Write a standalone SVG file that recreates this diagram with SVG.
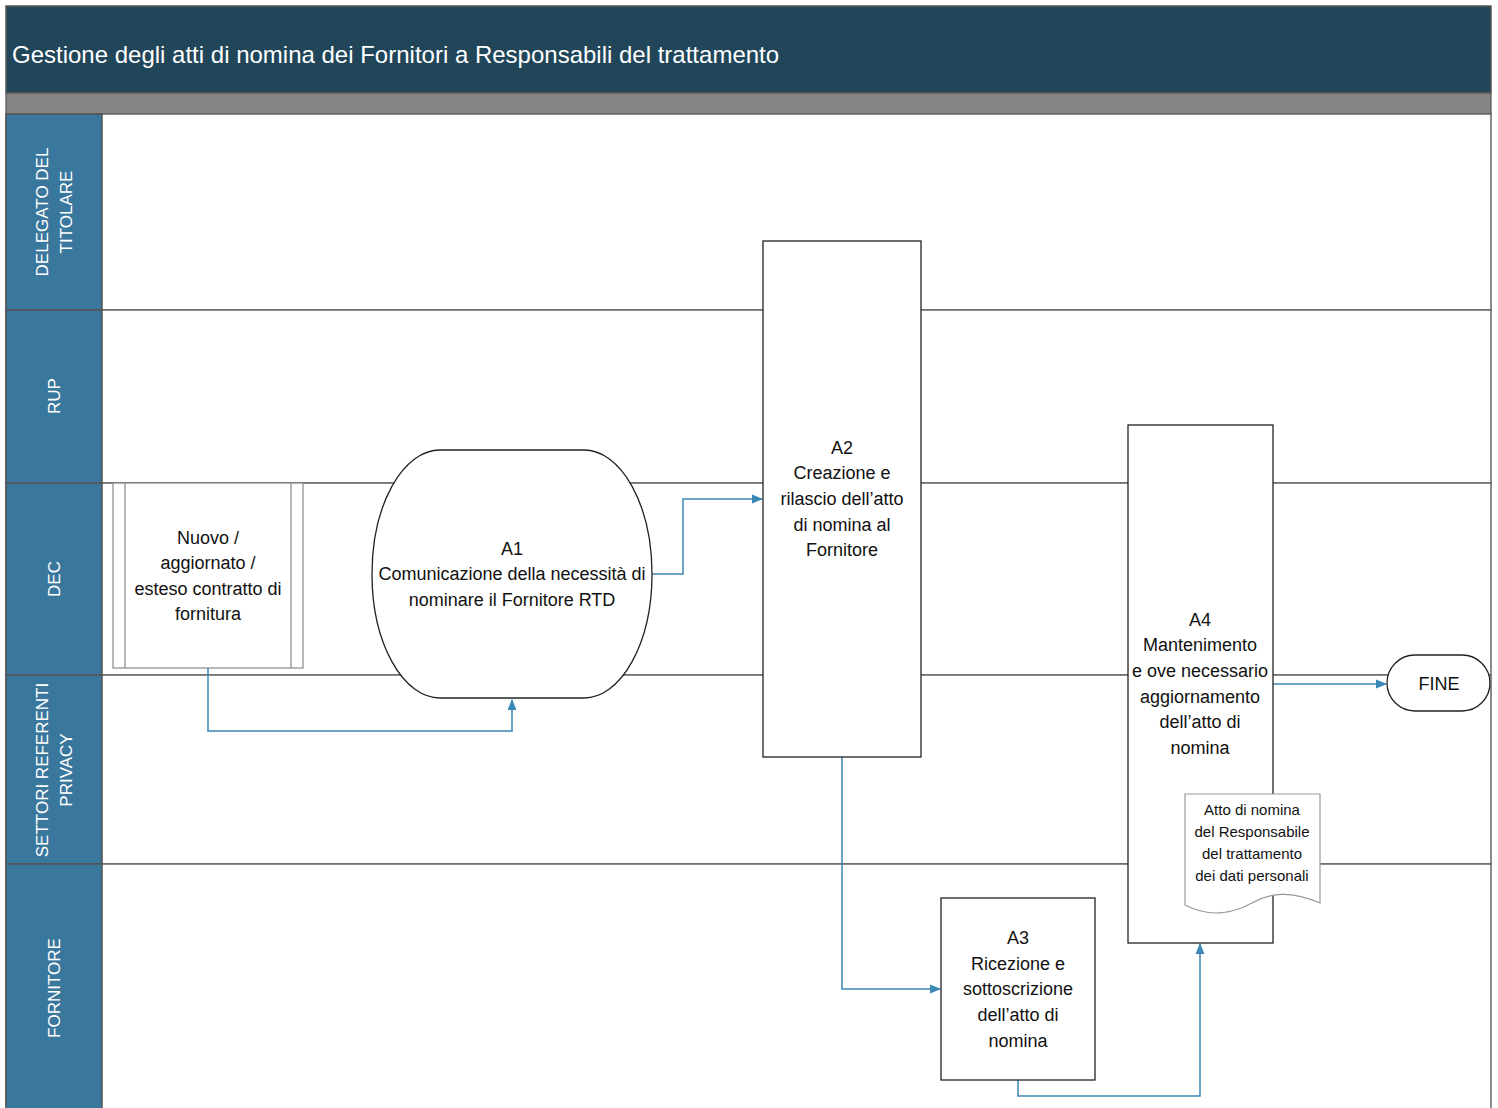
<svg xmlns="http://www.w3.org/2000/svg" width="1498" height="1108" viewBox="0 0 1498 1108">
<defs>
<marker id="arr" markerWidth="12" markerHeight="12" refX="10" refY="6" orient="auto" markerUnits="userSpaceOnUse">
<path d="M0,1.5 L11,6 L0,10.5 Z" fill="#3b87b5"/>
</marker>
<style>
.lane{fill:#ffffff;stroke:#666666;stroke-width:1.5}
.hdr{fill:#3a779c;stroke:#555555;stroke-width:1.5}
.lbl{font-family:"Liberation Sans",Arial,sans-serif;font-size:17px;fill:#ffffff;text-anchor:middle}
.node{fill:#ffffff;stroke:#222222;stroke-width:1.3}
.t{font-family:"Liberation Sans",Arial,sans-serif;font-size:18px;fill:#111111;text-anchor:middle}
.ts{font-family:"Liberation Sans",Arial,sans-serif;font-size:15px;fill:#111111;text-anchor:middle}
.c{fill:none;stroke:#3b87b5;stroke-width:1.5}
</style>
</defs>
<rect width="1498" height="1108" fill="#ffffff"/>
<g id="title">
<rect x="6" y="6" width="1485" height="87" fill="#21465a" stroke="#555555" stroke-width="1.5"/>
<rect x="6" y="93" width="1485" height="21" fill="#858585" stroke="#555555" stroke-width="1.2"/>
<text x="12" y="63" font-family="Liberation Sans,Arial,sans-serif" font-size="24" fill="#ffffff">Gestione degli atti di nomina dei Fornitori a Responsabili del trattamento</text>
</g>
<g id="lanes">
<rect class="lane" x="6" y="114" width="1485" height="196"/>
<rect class="lane" x="6" y="310" width="1485" height="173"/>
<rect class="lane" x="6" y="483" width="1485" height="192"/>
<rect class="lane" x="6" y="675" width="1485" height="189"/>
<rect class="lane" x="6" y="864" width="1485" height="250"/>
<rect class="hdr" x="6" y="114" width="96" height="196"/>
<rect class="hdr" x="6" y="310" width="96" height="173"/>
<rect class="hdr" x="6" y="483" width="96" height="192"/>
<rect class="hdr" x="6" y="675" width="96" height="189"/>
<rect class="hdr" x="6" y="864" width="96" height="250"/>
<text class="lbl" transform="translate(48,212) rotate(-90)">DELEGATO DEL</text>
<text class="lbl" transform="translate(72,212) rotate(-90)">TITOLARE</text>
<text class="lbl" transform="translate(60,396) rotate(-90)">RUP</text>
<text class="lbl" transform="translate(60,579) rotate(-90)">DEC</text>
<text class="lbl" transform="translate(48,770) rotate(-90)">SETTORI REFERENTI</text>
<text class="lbl" transform="translate(72,770) rotate(-90)">PRIVACY</text>
<text class="lbl" transform="translate(60,988) rotate(-90)">FORNITORE</text>
</g>
<g id="connectors">
<path class="c" d="M208,668 V731 H512 V700" marker-end="url(#arr)"/>
<path class="c" d="M652,574 H683 V499 H762" marker-end="url(#arr)"/>
<path class="c" d="M842,757 V989 H940" marker-end="url(#arr)"/>
<path class="c" d="M1018,1080 V1096 H1200 V944" marker-end="url(#arr)"/>
<path class="c" d="M1273,684 H1386" marker-end="url(#arr)"/>
</g>
<g id="start">
<rect x="113" y="483" width="190" height="185" fill="#ffffff" stroke="#888888" stroke-width="1.2"/>
<line x1="125" y1="483" x2="125" y2="668" stroke="#888888" stroke-width="1.2"/>
<line x1="291" y1="483" x2="291" y2="668" stroke="#888888" stroke-width="1.2"/>
<text class="t" x="208" y="544">Nuovo /</text>
<text class="t" x="208" y="569">aggiornato /</text>
<text class="t" x="208" y="595">esteso contratto di</text>
<text class="t" x="208" y="620">fornitura</text>
</g>
<g id="A1">
<path class="node" d="M440,450 H584 A68,124 0 0 1 584,698 H440 A68,124 0 0 1 440,450 Z"/>
<text class="t" x="512" y="555">A1</text>
<text class="t" x="512" y="580">Comunicazione della necessità di</text>
<text class="t" x="512" y="606">nominare il Fornitore RTD</text>
</g>
<g id="A2">
<rect class="node" x="763" y="241" width="158" height="516"/>
<text class="t" x="842" y="454">A2</text>
<text class="t" x="842" y="479">Creazione e</text>
<text class="t" x="842" y="505">rilascio dell’atto</text>
<text class="t" x="842" y="531">di nomina al</text>
<text class="t" x="842" y="556">Fornitore</text>
</g>
<g id="A4">
<rect class="node" x="1128" y="425" width="145" height="518"/>
<text class="t" x="1200" y="626">A4</text>
<text class="t" x="1200" y="651">Mantenimento</text>
<text class="t" x="1200" y="677">e ove necessario</text>
<text class="t" x="1200" y="703">aggiornamento</text>
<text class="t" x="1200" y="728">dell’atto di</text>
<text class="t" x="1200" y="754">nomina</text>
</g>
<g id="doc">
<path d="M1185,794 H1320 V903 C1290,890 1270,893 1252,903 C1234,913 1210,918 1185,905 Z" fill="#ffffff" stroke="#999999" stroke-width="1.2"/>
<text class="ts" x="1252" y="815">Atto di nomina</text>
<text class="ts" x="1252" y="837">del Responsabile</text>
<text class="ts" x="1252" y="859">del trattamento</text>
<text class="ts" x="1252" y="881">dei dati personali</text>
</g>
<g id="A3">
<rect class="node" x="941" y="898" width="154" height="182"/>
<text class="t" x="1018" y="944">A3</text>
<text class="t" x="1018" y="970">Ricezione e</text>
<text class="t" x="1018" y="995">sottoscrizione</text>
<text class="t" x="1018" y="1021">dell’atto di</text>
<text class="t" x="1018" y="1047">nomina</text>
</g>
<g id="FINE">
<rect class="node" x="1387" y="655" width="103" height="56" rx="28" ry="28"/>
<text class="t" x="1439" y="690">FINE</text>
</g>
</svg>
